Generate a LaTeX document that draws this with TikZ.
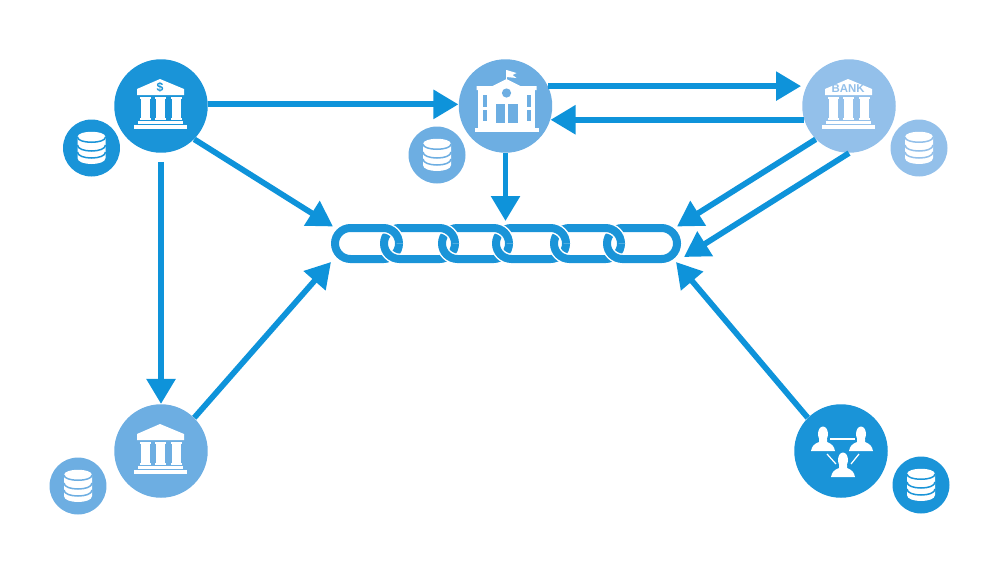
\documentclass[tikz,border=0pt]{standalone}
\usepackage{fontspec}
\setmainfont{Liberation Sans}
\usetikzlibrary{arrows.meta}
\definecolor{deepblue}{HTML}{1A94D8}
\definecolor{midblue}{HTML}{6DAEE2}
\definecolor{paleblue}{HTML}{93C0EA}
\definecolor{linkblue}{HTML}{0E93DA}
\newcommand{\linkshape}[2]{
  \draw[white,line width=.22cm,rounded corners=.31cm] (#1+4,228) rectangle (#2-4,259);
  \draw[deepblue,line width=.16cm,rounded corners=.31cm] (#1+4,228) rectangle (#2-4,259);
}
\newcommand{\linkover}[1]{
  \draw[white,line width=.22cm,rounded corners=.31cm] (#1-30,228) -- (#1-4,228) -- (#1-4,243.5);
  \draw[deepblue,line width=.16cm,rounded corners=.31cm] (#1-30,228) -- (#1-4,228) -- (#1-4,243.5);
}
\tikzset{
  hub/.style={circle,fill=#1,minimum size=1.87cm,inner sep=0pt},
  dbhub/.style={circle,fill=#1,minimum size=1.14cm,inner sep=0pt},
  flow/.style={linkblue,line width=.115cm,-{Triangle[length=.5cm,width=.56cm]}},
  bankicon/.pic={
    \fill[white] (-1,-27) -- (23,-17) -- (23,-11) -- (-24,-11) -- (-24,-17) -- cycle;
    \foreach \cx in {-16,-0.5,15} {
      \fill[white] (\cx-5.5,-9) rectangle (\cx+5.5,-7);
      \fill[white] (\cx-4.5,-7) rectangle (\cx+4.5,12);
      \fill[white] (\cx-5.5,12) rectangle (\cx+5.5,14);
    }
    \fill[white] (-23,15) rectangle (22,18);
    \fill[white] (-27,19) rectangle (26,23);
  },
  dbicon/.pic={
    \fill[white] (-14,-11) .. controls (-14,-18) and (14,-18) .. (14,-11) -- (14,10)
      .. controls (14,18) and (-14,18) .. (-14,10) -- cycle;
    \draw[#1,line width=.03cm] (-14,-11) .. controls (-14,-4) and (14,-4) .. (14,-11);
    \draw[#1,line width=.03cm] (-14,-3) .. controls (-14,5) and (14,5) .. (14,-3);
    \draw[#1,line width=.03cm] (-14,4) .. controls (-14,12) and (14,12) .. (14,4);
  },
  schoolicon/.pic={
    \draw[white,line width=.02cm] (1,-36) -- (1,-24);
    \fill[white] (1,-36) -- (11,-33) -- (7,-31) -- (11,-28) -- (1,-29) -- cycle;
    \fill[white] (1,-27) -- (15,-20) -- (31,-20) -- (31,-16) -- (-29,-16) -- (-29,-20) -- (-13,-20) -- cycle;
    \fill[white] (-28,-16) rectangle (29,23);
    \fill[white] (-31,22) rectangle (33,26);
    \fill[midblue] (1,-13) circle (.092cm);
    \foreach \wx in {-23,21} {
      \fill[midblue] (\wx,-11) rectangle (\wx+4,1);
      \fill[midblue] (\wx,4) rectangle (\wx+4,15);
    }
    \fill[midblue] (-10,-2) rectangle (-1,17);
    \fill[midblue] (2,-2) rectangle (12,17);
  },
  personicon/.pic={
    \fill[white] (0,0) ellipse [x radius=.1cm,y radius=.15cm];
    \fill[white] (-4,5) -- (4,5) -- (4,8) .. controls (9,10) and (11,12) .. (12,17)
      -- (-12,17) .. controls (-11,12) and (-9,10) .. (-4,8) -- cycle;
  }
}
\begin{document}
\begin{tikzpicture}[x=.02cm,y=-.02cm]
  \useasboundingbox (0,0) rectangle (1007,572);
  \node[hub=deepblue] (bka) at (161,106) {};
  \node[hub=midblue] (bkm) at (505.5,106) {};
  \node[hub=paleblue] (bkc) at (849,106) {};
  \node[hub=midblue] (bkl) at (161,451) {};
  \node[hub=deepblue] (grp) at (841,451) {};
  \node[dbhub=deepblue] (dba) at (91.5,148) {};
  \node[dbhub=midblue] (dbm) at (437,155) {};
  \node[dbhub=paleblue] (dbc) at (919,148) {};
  \node[dbhub=midblue] (dbl) at (78,486) {};
  \node[dbhub=deepblue] (dbg) at (921,485) {};
  \pic at (bka) {bankicon};
  \pic at (bkc) {bankicon};
  \pic at (bkl) {bankicon};
  \pic at (bkm) {schoolicon};
  \pic at (dba) {dbicon=deepblue};
  \pic at (dbm) {dbicon=midblue};
  \pic at (dbc) {dbicon=paleblue};
  \pic at (dbl) {dbicon=midblue};
  \pic at (dbg) {dbicon=deepblue};
  \node[text=deepblue,font=\bfseries\fontsize{7pt}{7pt}\selectfont,inner sep=0pt] (dollar) at (160,87) {\$};
  \node[text=paleblue,font=\bfseries\fontsize{6.5pt}{7pt}\selectfont,inner sep=0pt] (banktag) at (848,89) {BANK};
  \pic at (823,434) {personicon};
  \pic at (861,434) {personicon};
  \pic at (843,460) {personicon};
  \draw[white,line width=.025cm] (830,439) -- (855,439);
  \draw[white,line width=.025cm] (827,454) -- (836,464);
  \draw[white,line width=.025cm] (859,454) -- (851,464);
  \linkshape{331}{403}
  \foreach \xa/\xb/\xc in {403/380/459,459/438/513,513/492/570,570/550/625,625/603/681} {
    \linkshape{\xb}{\xc}
    \linkover{\xa}
  }
  \coordinate (inlt) at (333,226.5);
  \coordinate (inlb) at (331,262);
  \coordinate (intop) at (505.5,221);
  \coordinate (inrt) at (677,226.5);
  \coordinate (inrm) at (684,257);
  \coordinate (inrb) at (676,262);
  \draw[flow] (bka.2) -- (bkm.178);
  \draw[flow,shorten >=3pt] (bkm.25) -- (bkc.155);
  \draw[flow] (bkc.197) -- (bkm.-17);
  \draw[flow] (bkm.south) -- (intop);
  \draw[flow] (bka.south east) -- (inlt);
  \draw[flow,shorten <=5pt] (bka.south) -- (bkl.north);
  \draw[flow] (bkl.north east) -- (inlb);
  \draw[flow] (bkc.south west) -- (inrt);
  \draw[flow] (bkc.south) -- (inrm);
  \draw[flow] (grp.north west) -- (inrb);
\end{tikzpicture}
\end{document}
